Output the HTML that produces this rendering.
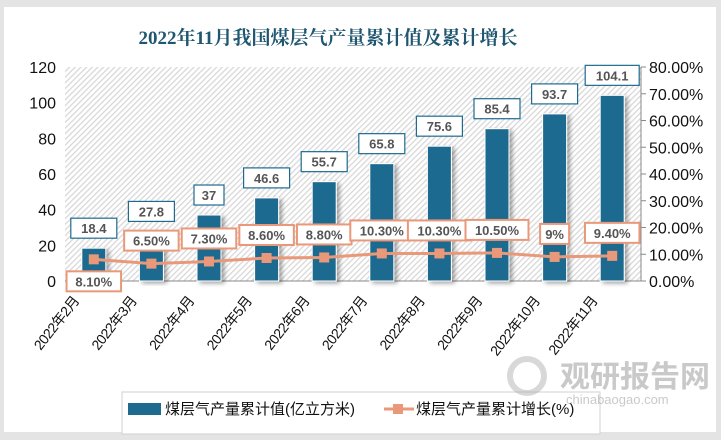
<!DOCTYPE html>
<html><head><meta charset="utf-8"><style>
body{margin:0;width:721px;height:440px;background:#e4e4e4;overflow:hidden}
svg{display:block}
text{font-family:"Liberation Sans","Noto Sans CJK SC",sans-serif}
</style></head><body>
<svg id="c" width="721" height="440">
<defs>
<pattern id="hatch" width="4" height="4" patternUnits="userSpaceOnUse" patternTransform="rotate(45)">
<rect width="4" height="4" fill="#ffffff"/><rect width="1.3" height="4" fill="#d8d8d8"/>
</pattern>
<filter id="sh" x="-30%" y="-10%" width="160%" height="120%"><feDropShadow dx="3" dy="2" stdDeviation="2" flood-color="#000" flood-opacity="0.35"/></filter>
</defs>
<rect x="4" y="7" width="712" height="425" fill="#fff"/>
<text x="328" y="44" text-anchor="middle" font-size="19" font-weight="bold" fill="#1f5670" style='font-family:"Liberation Serif","Noto Serif CJK SC",serif'>2022年11月我国煤层气产量累计值及累计增长</text>
<rect x="65" y="67" width="576" height="214" fill="url(#hatch)"/>
<g id="g"></g>
<g>
<rect x="122" y="392" width="478" height="42" fill="#fff" stroke="#d0d0d0"/>
<rect x="128" y="403" width="33" height="12" fill="#1e6b8f"/>
<text x="165" y="414" font-size="15" fill="#111">煤层气产量累计值(亿立方米)</text>
<line x1="384" y1="409" x2="414" y2="409" stroke="#e9997a" stroke-width="3"/>
<rect x="393" y="404" width="10" height="10" fill="#e9997a"/>
<text x="416" y="414" font-size="15" fill="#111">煤层气产量累计增长(%)</text>
</g>
<g opacity="0.45">
<circle cx="527" cy="376" r="17" fill="none" stroke="#aaa" stroke-width="6"/>
<text x="560" y="387" font-size="30" font-weight="bold" fill="#888">观研报告网</text>
<text x="566" y="404" font-size="13" fill="#888">chinabaogao.com</text>
</g>
</svg>
<script>
const categories=["2022年2月","2022年3月","2022年4月","2022年5月","2022年6月","2022年7月","2022年8月","2022年9月","2022年10月","2022年11月"];
const values=[18.4,27.8,37,46.6,55.7,65.8,75.6,85.4,93.7,104.1];
const growth=[8.1,6.5,7.3,8.6,8.8,10.3,10.3,10.5,9,9.4];
const growthLabels=["8.10%","6.50%","7.30%","8.60%","8.80%","10.30%","10.30%","10.50%","9%","9.40%"];
const leftTicks=[0,20,40,60,80,100,120];
const rightTicks=[0,10,20,30,40,50,60,70,80];
const NS="http://www.w3.org/2000/svg";
const g=document.getElementById('g');
const L=65,R=641,T=67,B=281;
const bw=(R-L)/categories.length;
const x=i=>L+bw*(i+0.5);
const yL=v=>B-(v/120)*(B-T);
const yR=v=>B-(v/80)*(B-T);
function el(t,a,p){const e=document.createElementNS(NS,t);for(const k in a)e.setAttribute(k,a[k]);(p||g).appendChild(e);return e;}
leftTicks.forEach(t=>{const e=el('text',{x:56,y:yL(t)+6,'text-anchor':'end','font-size':16,fill:'#111'});e.textContent=t;

});
el('line',{x1:R,y1:T,x2:R,y2:B,stroke:'#888'});
rightTicks.forEach(t=>{el('line',{x1:R,y1:yR(t),x2:R+5,y2:yR(t),stroke:'#888'});
const e=el('text',{x:R+8,y:yR(t)+6,'font-size':16,fill:'#111'});e.textContent=t.toFixed(2)+'%';

});
el('line',{x1:L,y1:B,x2:R,y2:B,stroke:'#888'});
values.forEach((v,i)=>{
const r=el('rect',{x:x(i)-12,y:yL(v),width:24,height:B-yL(v),fill:'#1e6b8f',stroke:'#fff','stroke-width':1,filter:'url(#sh)'});


const s=String(v),w=s.length*8+14,ly=yL(v)-30;
const b=el('rect',{x:x(i)-w/2,y:ly,width:w,height:20,fill:'#fff',stroke:'#1e6b8f','stroke-width':1.2});


const t=el('text',{x:x(i),y:ly+15,'text-anchor':'middle','font-size':13,'font-weight':'bold',fill:'#555'});t.textContent=s;


const xl=el('text',{transform:`translate(${x(i)-14},${B+20}) rotate(-52)`,'text-anchor':'end','font-size':14,'letter-spacing':'-0.5',fill:'#111'});xl.textContent=categories[i];


});
const pts=growth.map((v,i)=>x(i)+','+yR(v)).join(' ');
const pl=el('polyline',{points:pts,fill:'none',stroke:'#e9997a','stroke-width':3});


growth.forEach((v,i)=>{
const m=el('rect',{x:x(i)-5,y:yR(v)-5,width:10,height:10,fill:'#e9997a'});


const s=growthLabels[i],w=s.length*8.5+12,ly=i===0?yR(v)+12:yR(v)-33;
const b=el('rect',{x:x(i)-w/2,y:ly,width:w,height:20,fill:'#fff',stroke:'#e9997a','stroke-width':2});


const t=el('text',{x:x(i),y:ly+15,'text-anchor':'middle','font-size':13,'font-weight':'bold',fill:'#555'});t.textContent=s;


});
</script>
</body></html>
